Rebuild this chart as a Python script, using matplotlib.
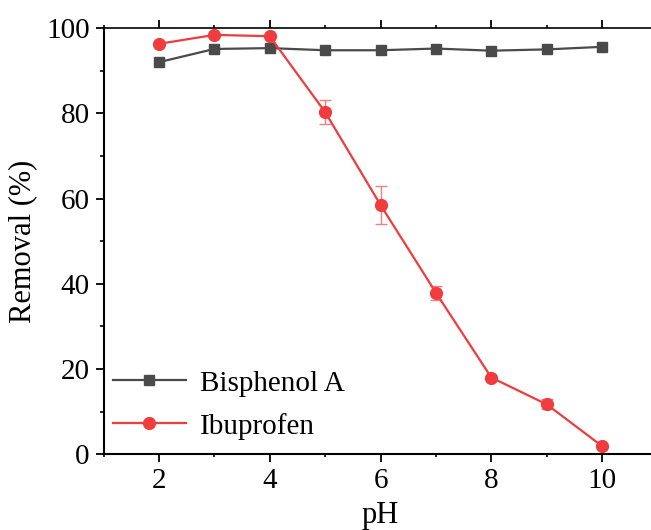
import matplotlib
matplotlib.use("Agg")
import matplotlib.pyplot as plt
from matplotlib.ticker import MultipleLocator

ph = [2, 3, 4, 5, 6, 7, 8, 9, 10]
bisphenol_a = [92.0, 95.1, 95.3, 94.8, 94.8, 95.2, 94.7, 95.0, 95.6]
ibuprofen = [96.3, 98.4, 98.1, 80.3, 58.5, 37.9, 18.0, 11.7, 1.9]
ibuprofen_err = [0.3, 0.3, 0.3, 2.8, 4.4, 1.6, 0.4, 1.2, 0.3]

plt.rcParams["font.family"] = ["Liberation Serif", "DejaVu Serif"]

fig = plt.figure(figsize=(6.51, 5.30), dpi=100)
ax = fig.add_axes([0.159, 0.143, 0.851, 0.804])

ax.plot(ph, bisphenol_a, color="#4a4a4a", lw=1.6, marker="s", ms=7,
        label="Bisphenol A", zorder=3)
# error bars drawn on their own so the legend handle stays a plain line
ax.errorbar(ph, ibuprofen, yerr=ibuprofen_err, fmt="none", ecolor="#f28080",
            elinewidth=1.0, capsize=4, capthick=1.0, zorder=3)
ax.plot(ph, ibuprofen, color="#f03c3c", lw=1.6, marker="o", ms=8.5,
        label="Ibuprofen", zorder=4)

ax.set_xlim(1, 11)
ax.set_ylim(0, 100)
ax.xaxis.set_major_locator(MultipleLocator(2))
ax.xaxis.set_minor_locator(MultipleLocator(1))
ax.yaxis.set_major_locator(MultipleLocator(20))
ax.yaxis.set_minor_locator(MultipleLocator(10))

for s in ax.spines.values():
    s.set_linewidth(1.5)
ax.spines["top"].set_linewidth(1.2)

ax.tick_params(which="major", direction="out", length=6, width=1.3,
               labelsize=21, pad=4)
ax.tick_params(which="minor", direction="out", length=3, width=1.2)
ax.tick_params(axis="x", which="both", top=True, length=2)
ax.tick_params(axis="x", which="major", bottom=True, length=6)

ax.set_xlabel("pH", fontsize=22, labelpad=5)
ax.set_ylabel("Removal (%)", fontsize=22, labelpad=6)

ax.legend(loc="lower left", bbox_to_anchor=(-0.015, -0.007), frameon=False,
          fontsize=21, handlelength=2.5, handletextpad=0.5,
          labelspacing=0.55, borderaxespad=0.2)

fig.savefig("out.png", dpi=100)
